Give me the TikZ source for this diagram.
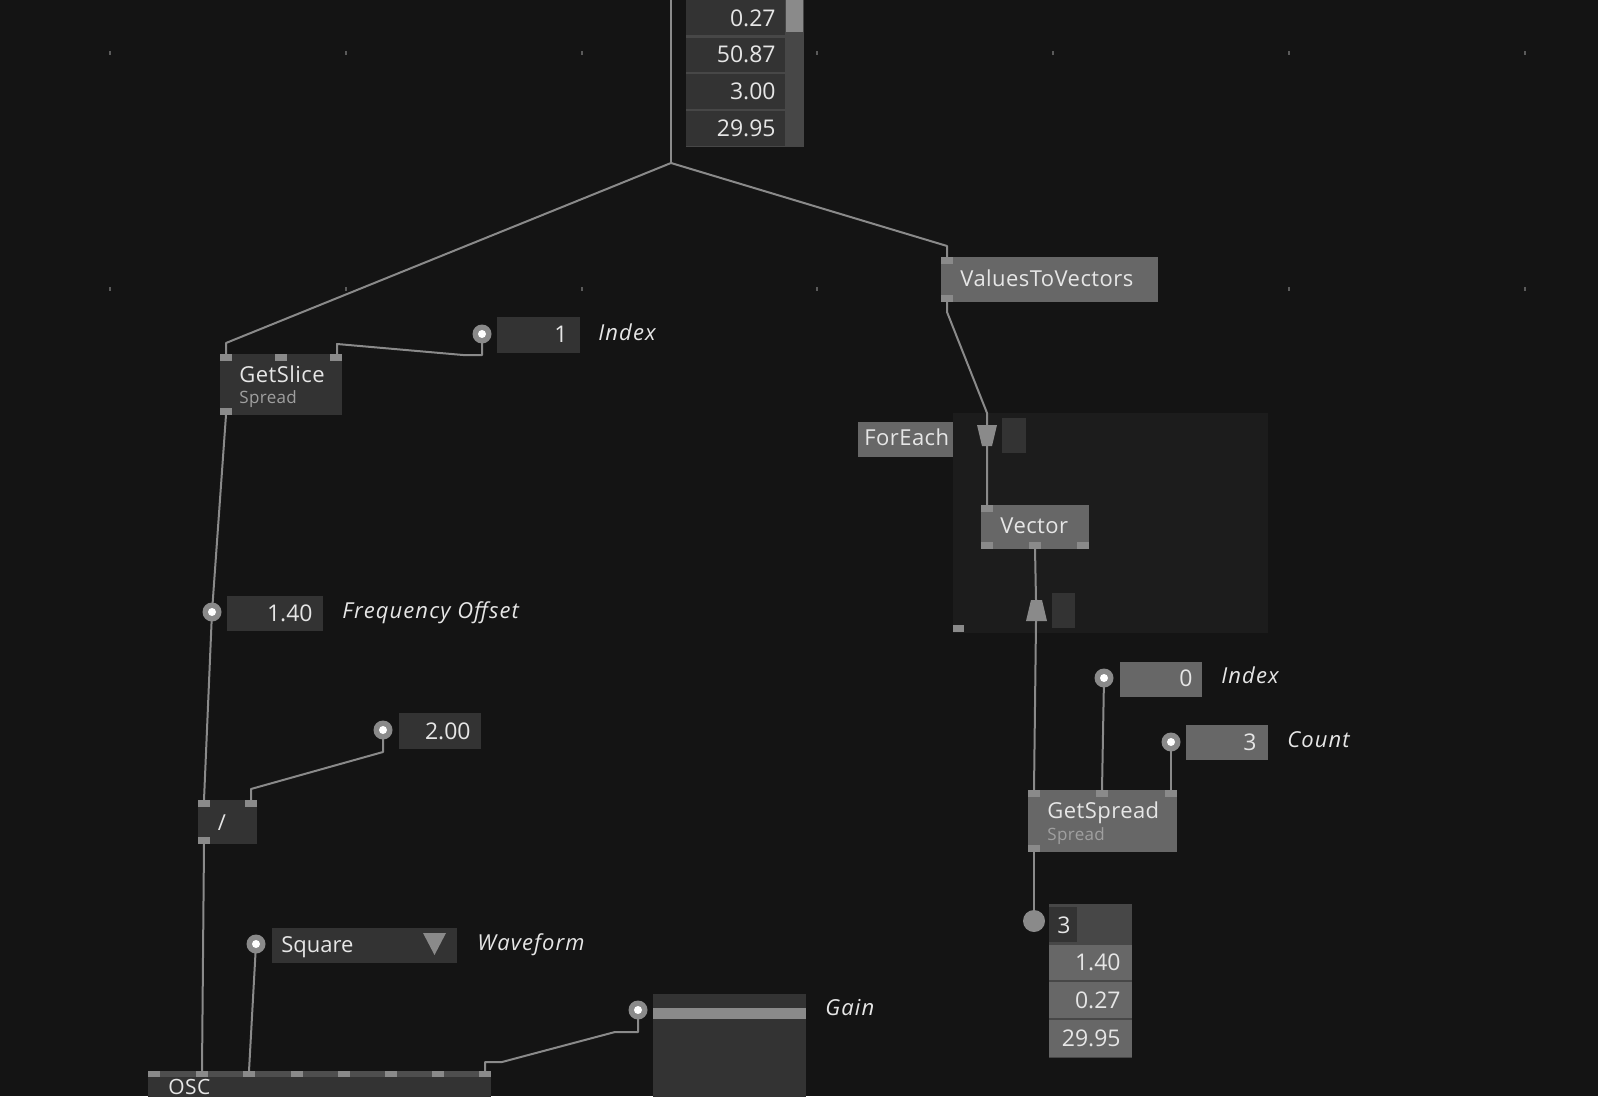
\documentclass[tikz,border=0pt]{standalone}
\usepackage{fontspec}
\setmainfont{Open Sans}
\usetikzlibrary{calc}
\definecolor{bg}{HTML}{141414}
\definecolor{dk}{HTML}{333333}
\definecolor{md}{HTML}{676767}
\definecolor{pn}{HTML}{8A8A8A}
\definecolor{wr}{HTML}{8A8A8A}
\definecolor{tx}{HTML}{E6E6E6}
\definecolor{subc}{HTML}{A0A0A0}
\definecolor{fe}{HTML}{1C1C1C}
\definecolor{hd}{HTML}{474747}
\definecolor{dotc}{HTML}{5A5A5A}
\pgfdeclarelayer{bgl}
\pgfdeclarelayer{wires}
\pgfsetlayers{bgl,wires,main}
\begin{document}
\begin{tikzpicture}[x=0.5pt,y=-0.5pt,
 box/.style={inner sep=0pt, outer sep=0pt, anchor=north west},
 pinr/.style={box, fill=pn, minimum width=6pt, minimum height=3.5pt},
 wire/.style={draw=wr, line width=1pt, line join=round},
 ttl/.style={text=tx, inner sep=0pt, font=\fontsize{11}{13}\selectfont\addfontfeatures{LetterSpace=2}, anchor=base west},
 num/.style={text=tx, inner sep=0pt, font=\fontsize{11.5}{13}\selectfont, anchor=base east},
 lbl/.style={text=tx, inner sep=0pt, font=\fontsize{11}{13}\selectfont\itshape\addfontfeatures{LetterSpace=5}, anchor=base west},
 subt/.style={text=subc, inner sep=0pt, font=\fontsize{8.5}{10}\selectfont\addfontfeatures{LetterSpace=2}, anchor=base west},
 iopin/.style={circle, fill=pn, inner sep=0pt, outer sep=0pt, minimum size=9.5pt},
]
\useasboundingbox (0,0) rectangle (1598,1096);
\clip (0,0) rectangle (1598,1096);
\begin{pgfonlayer}{bgl}
 \fill[bg] (0,0) rectangle (1598,1096);
 \foreach \gx in {110,346,582,817,1053,1289,1525}
  \foreach \gy in {53,289}
   \fill[dotc] (\gx-1,\gy-2) rectangle (\gx+1,\gy+2);
 \node[box, fill=fe, minimum width=157.5pt, minimum height=110pt] (fereg) at (953,413) {};
\end{pgfonlayer}

% ---------- top spread table
\fill[hd] (686,-2) rectangle (804,147);
\node[box, fill=dk, minimum width=49.5pt, minimum height=18.5pt] (c1) at (686,-2) {};
\node[box, fill=dk, minimum width=49.5pt, minimum height=17pt] (c2) at (686,38) {};
\node[box, fill=dk, minimum width=49.5pt, minimum height=17.5pt] (c3) at (686,74) {};
\node[box, fill=dk, minimum width=49.5pt, minimum height=17.5pt] (c4) at (686,111) {};
\fill[pn] (786,-2) rectangle (803,32);
\node[num] (c1t) at (776,27) {0.27};
\node[num] (c2t) at (776,63) {50.87};
\node[num] (c3t) at (776,100) {3.00};
\node[num] (c4t) at (776,137) {29.95};
\coordinate (topc) at (671,-5);
\coordinate (hub) at (671,163);

% ---------- ValuesToVectors
\node[box, fill=md, minimum width=108.5pt, minimum height=22.5pt] (vtv) at (941,257) {};
\node[pinr] (vtv1) at (941,257) {};
\node[pinr] (vtv2) at (941,295) {};
\node[ttl] (vtvt) at (960,286) {ValuesToVectors};

% ---------- ForEach
\node[box, fill=md, minimum width=47.5pt, minimum height=17.5pt] (fel) at (858,422) {};
\node[ttl] (felt) at (864,445) {ForEach};
\fill[pn] (977,425) -- (997,425) -- (992,446) -- (982,446) -- cycle;
\coordinate (fein) at (987,413);
\node[box, fill=dk, minimum width=12pt, minimum height=17.5pt] (fed1) at (1002,418) {};
\fill[pn] (1031,600) -- (1042,600) -- (1047,621) -- (1026,621) -- cycle;
\coordinate (feout) at (1036,600);
\coordinate (feoutb) at (1036,621);
\node[box, fill=dk, minimum width=11.5pt, minimum height=17.5pt] (fed2) at (1052,593) {};
\node[box, fill=pn, minimum width=5.5pt, minimum height=3.5pt] (fepin) at (953,625) {};

% ---------- Vector
\node[box, fill=md, minimum width=54pt, minimum height=22pt] (vec) at (981,505) {};
\node[pinr] (vec1) at (981,505) {};
\node[pinr] (vecb1) at (981,542) {};
\node[pinr] (vec2) at (1029,542) {};
\node[pinr] (vecb3) at (1077,542) {};
\node[ttl] (vect) at (1000,533) {Vector};

% ---------- GetSpread
\node[box, fill=md, minimum width=74.5pt, minimum height=31pt] (gsp) at (1028,790) {};
\node[pinr] (gsp1) at (1028,790) {};
\node[pinr] (gsp2) at (1096,790) {};
\node[pinr] (gsp3) at (1165,790) {};
\node[pinr] (gspo) at (1028,845) {};
\node[ttl] (gspt) at (1047,818) {GetSpread};
\node[subt] (gsps) at (1047,840) {Spread};

\node[box, fill=md, minimum width=41pt, minimum height=17.5pt] (idx0) at (1120,662) {};
\node[iopin] (idx0p) at (1104,678) {};
\node[num] (idx0t) at (1193,686) {0};
\node[lbl] (idx0l) at (1221,683) {Index};

\node[box, fill=md, minimum width=41pt, minimum height=17.5pt] (cnt) at (1186,725) {};
\node[iopin] (cntp) at (1171,742) {};
\node[num] (cntt) at (1257,750) {3};
\node[lbl] (cntl) at (1287,747) {Count};

\node[circle, fill=pn, inner sep=0pt, minimum size=11pt] (outc) at (1034,921) {};
\fill[hd] (1049,904) rectangle (1132,1058);
\node[box, fill=dk, minimum width=14pt, minimum height=17.5pt] (sp0) at (1049,907) {};
\node[box, fill=md, minimum width=41.5pt, minimum height=17.5pt] (sp1) at (1049,945) {};
\node[box, fill=md, minimum width=41.5pt, minimum height=18pt] (sp2) at (1049,982) {};
\node[box, fill=md, minimum width=41.5pt, minimum height=18.5pt] (sp3) at (1049,1020) {};
\node[text=tx, inner sep=0pt, font=\fontsize{11.5}{13}\selectfont, anchor=base west] (sp0t) at (1057,933) {3};
\node[num] (sp1t) at (1121,970) {1.40};
\node[num] (sp2t) at (1121,1008) {0.27};
\node[num] (sp3t) at (1121,1046) {29.95};

% ---------- GetSlice
\node[box, fill=dk, minimum width=61pt, minimum height=30.5pt] (gsl) at (220,354) {};
\node[pinr] (gsl1) at (220,354) {};
\node[pinr] (gsl2) at (275,354) {};
\node[pinr] (gsl3) at (330,354) {};
\node[pinr] (gslo) at (220,408) {};
\node[ttl] (gslt) at (239,382) {GetSlice};
\node[subt] (gsls) at (239,403) {Spread};

\node[box, fill=dk, minimum width=41.5pt, minimum height=18pt] (idx1) at (497,317) {};
\node[iopin] (idx1p) at (482,334) {};
\node[num] (idx1t) at (568,343) {1};
\node[lbl] (idx1l) at (598,340) {Index};

% ---------- Frequency offset
\node[box, fill=dk, minimum width=48pt, minimum height=17.5pt] (fo) at (227,596) {};
\node[iopin] (fop) at (212,612) {};
\node[num] (fot) at (313,621) {1.40};
\node[lbl] (fol) at (342,618) {Frequency Offset};

\node[box, fill=dk, minimum width=41pt, minimum height=18pt] (two) at (399,713) {};
\node[iopin] (twop) at (383,730) {};
\node[num] (twot) at (471,739) {2.00};

% ---------- divide
\node[box, fill=dk, minimum width=29.5pt, minimum height=22pt] (div) at (198,800) {};
\node[pinr] (div1) at (198,800) {};
\node[pinr] (div2) at (245,800) {};
\node[pinr] (divo) at (198,837) {};
\node[text=tx, inner sep=0pt, font=\fontsize{11}{13}\selectfont] (divt) at (222,823) {/};

% ---------- Waveform
\node[box, fill=dk, minimum width=92.5pt, minimum height=17.5pt] (wf) at (272,928) {};
\node[iopin] (wfp) at (256,944) {};
\fill[pn] (423,933) -- (446,933) -- (434.5,955) -- cycle;
\node[text=tx, inner sep=0pt, font=\fontsize{11}{13}\selectfont, anchor=base west] (wft) at (281,952) {Square};
\node[lbl] (wfl) at (477,950) {Waveform};

% ---------- Gain
\node[box, fill=dk, minimum width=76.5pt, minimum height=53pt] (gain) at (653,994) {};
\fill[pn] (653,1008) rectangle (806,1019);
\node[iopin] (gainp) at (638,1010) {};
\node[lbl] (gainl) at (825,1015) {Gain};

% ---------- OSC
\node[box, fill=dk, minimum width=171.5pt, minimum height=14pt] (osc) at (148,1071) {};
\fill[hd!90!white!70!dk] (148,1071) rectangle (491,1077);
\foreach \i/\px in {1/148,2/196,3/243,4/291,5/338,6/385,7/432,8/479}
  \node[box, fill=pn, minimum width=6pt, minimum height=3pt] (osc\i) at (\px,1071) {};
\node[text=tx, inner sep=0pt, text depth=0pt, font=\fontsize{10.5}{12}\selectfont\addfontfeatures{LetterSpace=2}, anchor=base west] (osct) at (168,1094) {OSC};

% white centres of io pins
\foreach \p in {idx0p,cntp,idx1p,fop,twop,wfp,gainp}
  \fill[white] (\p) circle (2pt);

% ---------- wires
\begin{pgfonlayer}{wires}
 \draw[wire] (topc) -- (hub);
 \draw[wire] (hub) -- ($(gsl1.north)+(0,-11)$) -- (gsl1.north);
 \draw[wire] (hub) -- ($(vtv1.north)+(0,-11)$) -- (vtv1.north);
 \draw[wire] (idx1p.center) -- ++(0,21) -- ++(-19,0) -- ($(gsl3.north)+(1,-10)$) -- ($(gsl3.north)+(1,0)$);
 \draw[wire] (gslo.south) -- (fop.center);
 \draw[wire] (fop.center) -- (div1.north);
 \draw[wire] (twop.center) -- ++(0,22) -- ($(div2.north)+(0,-11)$) -- (div2.north);
 \draw[wire] (divo.south) -- (osc2.north);
 \draw[wire] (wfp.center) -- (osc3.north);
 \draw[wire] (gainp.center) -- ++(0,22) -- ++(-23,0) -- ($(osc8.north)+(17,-9)$) -- ($(osc8.north)+(0,-9)$) -- (osc8.north);
 \draw[wire] (vtv2.south) -- ++(0,10) -- (fein) -- (vec1.north);
 \draw[wire] (vec2.south) -- (feout);
 \draw[wire] (feoutb) -- (gsp1.north);
 \draw[wire] (idx0p.center) -- (gsp2.north);
 \draw[wire] (cntp.center) -- (gsp3.north);
 \draw[wire] (gspo.south) -- (outc.center);
\end{pgfonlayer}
\end{tikzpicture}
\end{document}
